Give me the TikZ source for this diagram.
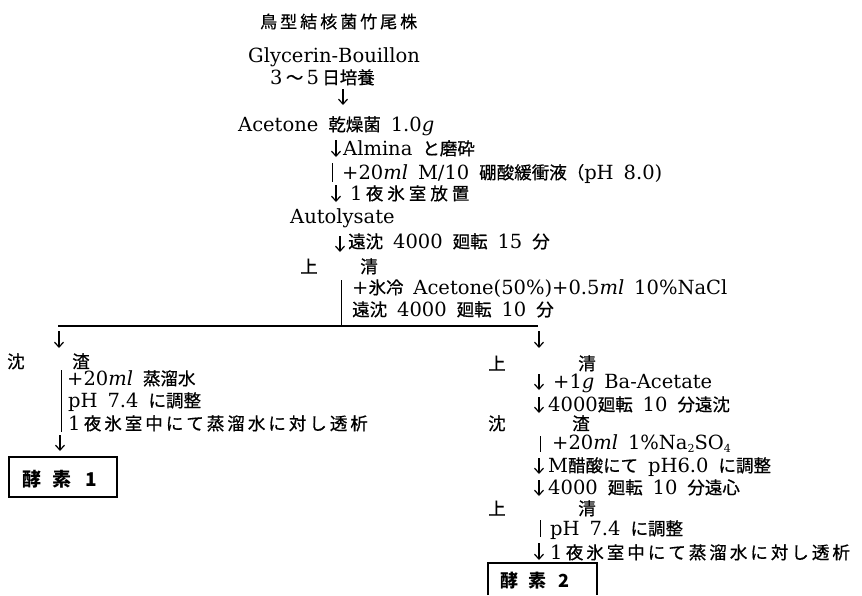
\documentclass[tikz,border=0pt]{standalone}
\usepackage{fontspec}
\setmainfont{DejaVu Serif}[WordSpace=1.6]
\newfontfamily\jpf{Noto Sans CJK JP}[FakeBold=0.7]
\newfontfamily\jpb{Noto Sans CJK JP}
\usetikzlibrary{arrows.meta}
\makeatletter
\newcommand\jp[1]{{\jpf\fontsize{17.5}{17.5}\selectfont #1}}
\newcommand\jpsp[3]{{\jpf\fontsize{#1}{#1}\selectfont\@tfor\my@c:=#3\do{\my@c\hspace{#2}}\unskip}}
\makeatother
\newcommand\mysub[1]{\raisebox{-3pt}{\fontsize{11}{11}\selectfont #1}}
\newcommand\darr[4]{\coordinate (#1t) at (#2,#3); \coordinate (#1b) at (#2,#4); \draw[arr] (#1t) -- (#1b);}
\newcommand\vbarl[4]{\coordinate (#1t) at (#2,#3); \coordinate (#1b) at (#2,#4); \draw[vbar] (#1t) -- (#1b);}
\begin{document}
\begin{tikzpicture}[x=1pt,y=-1pt,
  txt/.style={anchor=base west, inner sep=0pt, font=\fontsize{19.5}{19.5}\selectfont},
  arr/.style={line width=1.2pt, -{Straight Barb[length=5pt,width=9pt,line width=1.2pt]}},
  vbar/.style={line width=1pt},
  boxline/.style={line width=1.2pt}]
\fill[white] (0,0) rectangle (862,595);
\useasboundingbox (0,0) rectangle (862,595);
% top trunk
\node[txt] (title) at (260,28) {\jpsp{17}{3pt}{鳥型結核菌竹尾株}};
\node[txt] (glyc) at (248,62) {Glycerin-Bouillon};
\node[txt] (days) at (270,84) {3\,\jp{～}\,5\,\jp{日培養}};
\darr{a1}{343}{89}{105}
\node[txt] (acet) at (238,131) {Acetone \jp{乾燥菌} 1.0\textit{g}};
\darr{a2}{336}{140}{157}
\node[txt] (alm) at (343,155) {Almina \jp{と磨砕}};
\vbarl{b1}{332}{163}{182}
\node[txt] (bor) at (342,179) {+20\textit{ml} M/10 \jp{硼酸緩衝液（}pH 8.0)};
\darr{a3}{336}{185}{202}
\node[txt] (night1) at (350,200) {1\,\jpsp{17.5}{4pt}{夜氷室放置}};
\node[txt] (auto) at (290,223) {Autolysate};
\darr{a4}{340}{236}{252}
\node[txt] (cen1) at (348,248) {\jp{遠沈} 4000 \jp{廻転} 15 \jp{分}};
\node[txt] (up1a) at (300,273) {\jp{上}};
\node[txt] (up1b) at (360,273) {\jp{清}};
\node[txt] (ice) at (352,294) {+\jp{氷冷} Acetone(50\%)+0.5\textit{ml} 10\%NaCl};
\node[txt] (cen2) at (352,316) {\jp{遠沈} 4000 \jp{廻転} 10 \jp{分}};
% split
\coordinate (s0) at (341,280);
\coordinate (sj) at (341,326);
\coordinate (sl) at (58,326);
\coordinate (sr) at (538,326);
\draw[vbar] (s0) -- (sj);
\draw[line width=1.2pt] (sl) -- (sr);
\darr{aL}{59}{331}{348}
\darr{aR}{539}{331}{348}
% left branch
\node[txt] (l1a) at (7,368) {\jp{沈}};
\node[txt] (l1b) at (72,368) {\jp{渣}};
\vbarl{bL}{61}{370}{432}
\node[txt] (l2) at (67,385) {+20\textit{ml} \jp{蒸溜水}};
\node[txt] (l3) at (68,407) {pH 7.4 \jp{に調整}};
\node[txt] (l4) at (68,430) {1\,\jpsp{17.5}{3pt}{夜氷室中にて蒸溜水に対し透析}};
\darr{aL2}{60}{435}{451}
\draw[boxline] (9,457) rectangle (117,497);
\node[txt] (enz1) at (22,486) {{\jpb\fontsize{19}{19}\selectfont\bfseries 酵\hspace{11pt}素\hspace{14pt}1}};
% right branch
\node[txt] (r1a) at (488,370) {\jp{上}};
\node[txt] (r1b) at (578,370) {\jp{清}};
\darr{r1}{539}{374}{390}
\node[txt] (r2) at (553,388) {+1\textit{g} Ba-Acetate};
\darr{r2a}{539}{397}{413}
\node[txt] (r3) at (548,411) {4000\jp{廻転} 10 \jp{分遠沈}};
\node[txt] (r4a) at (488,430) {\jp{沈}};
\node[txt] (r4b) at (572,430) {\jp{渣}};
\vbarl{rb1}{540}{436}{452}
\node[txt] (r5) at (552,449) {+20\textit{ml} 1\%Na\mysub{2}SO\mysub{4}};
\darr{r6a}{539}{458}{474}
\node[txt] (r6) at (548,472) {M\jp{醋酸にて} pH6.0 \jp{に調整}};
\darr{r7a}{539}{480}{496}
\node[txt] (r7) at (548,494) {4000 \jp{廻転} 10 \jp{分遠心}};
\node[txt] (r8a) at (488,515) {\jp{上}};
\node[txt] (r8b) at (578,515) {\jp{清}};
\vbarl{rb2}{540}{520}{537}
\node[txt] (r9) at (550,535) {pH 7.4 \jp{に調整}};
\darr{r10a}{539}{543}{560}
\node[txt] (r10) at (550,559) {1\,\jpsp{17.5}{3pt}{夜氷室中にて蒸溜水に対し透析}};
\draw[boxline] (488,595) -- (488,563) -- (597,563) -- (597,595);
\node[txt] (enz2) at (500,587) {{\jpb\fontsize{18}{18}\selectfont\bfseries 酵\hspace{10pt}素\hspace{12pt}2}};
\end{tikzpicture}
\end{document}
